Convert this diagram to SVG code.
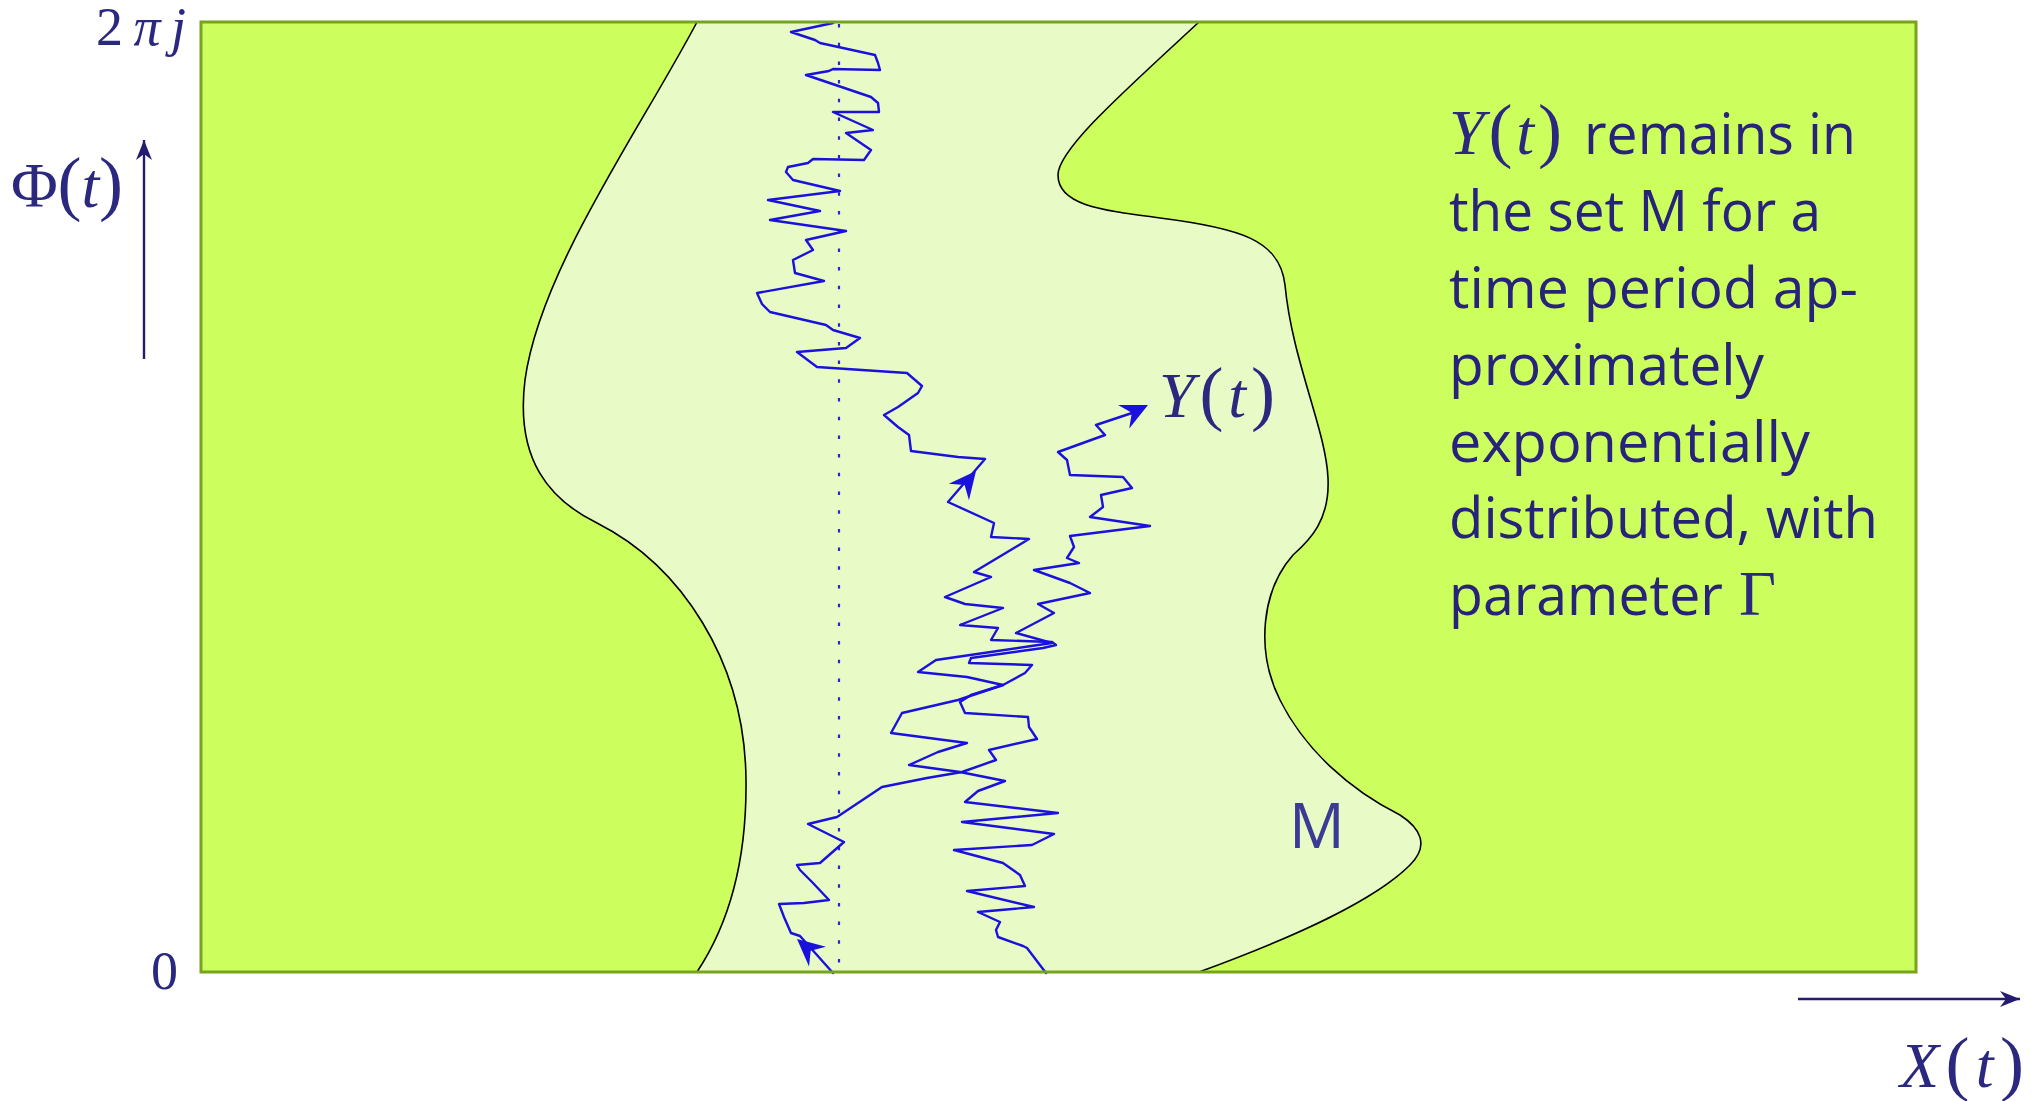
<svg xmlns="http://www.w3.org/2000/svg" width="2035" height="1101" viewBox="0 0 2035 1101">
<style>
.bnd{fill:none;stroke:#000;stroke-width:1.6}
.walk{fill:none;stroke:#1a12dc;stroke-width:2.4;stroke-linejoin:round;stroke-linecap:round}
.axis{fill:none;stroke:#221d70;stroke-width:2.4}
.math{font-family:"Liberation Serif","DejaVu Serif",serif;fill:#2b2880}
.it{font-style:italic}
.par{font-size:72px}
.body{font-family:"Open Sans","Noto Sans",sans-serif;font-size:56px;fill:#27237a}
</style>
<defs>
<marker id="ah" viewBox="-28 -14 30 28" refX="0" refY="0" markerWidth="30" markerHeight="28" markerUnits="userSpaceOnUse" orient="auto" overflow="visible">
<path d="M0,0 L-27,-13 L-18,0 L-27,13 Z" fill="#1a12dc"/>
</marker>
<marker id="ax" viewBox="-22 -10 24 20" refX="0" refY="0" markerWidth="24" markerHeight="20" markerUnits="userSpaceOnUse" orient="auto" overflow="visible">
<path d="M0,0 L-20,-8 L-14,0 L-20,8 Z" fill="#221d70"/>
</marker>
</defs>

<g id="background">
<rect x="201" y="22" width="1715" height="950" fill="#ccff5e"/>
<path id="setM" d="M 697 22 C 640 130, 540 270, 525 380 C 515 460, 550 500, 597 523 C 680 565, 745 660, 746 780 C 747 870, 725 930, 697 972 L 1199 972 C 1300 935, 1375 900, 1410 865 C 1430 845, 1420 828, 1400 815 C 1350 790, 1305 750, 1280 700 C 1255 650, 1262 590, 1293 555 C 1310 540, 1330 520, 1328 478 C 1326 430, 1292 360, 1285 285 C 1280 240, 1240 228, 1160 218 C 1100 210, 1058 205, 1058 175 C 1058 150, 1120 95, 1199 22 Z" fill="#e8fac5"/>
<path class="bnd" d="M 697 22 C 640 130, 540 270, 525 380 C 515 460, 550 500, 597 523 C 680 565, 745 660, 746 780 C 747 870, 725 930, 697 972"/>
<path class="bnd" d="M 1199 972 C 1300 935, 1375 900, 1410 865 C 1430 845, 1420 828, 1400 815 C 1350 790, 1305 750, 1280 700 C 1255 650, 1262 590, 1293 555 C 1310 540, 1330 520, 1328 478 C 1326 430, 1292 360, 1285 285 C 1280 240, 1240 228, 1160 218 C 1100 210, 1058 205, 1058 175 C 1058 150, 1120 95, 1199 22"/>
<line x1="839" y1="24" x2="839" y2="970" stroke="#2a24d0" stroke-width="2.2" stroke-dasharray="3.5 15.2"/>
</g>

<g id="connectors">
<path id="walkA" class="walk" d="M 833 973 L 800 936 791 933 784 917 779 904 804 903 829 900 813 883 800 870 797 865 820 863 844 842 808 824 837 817 858 803 882 787 927 778 962 772 996 760 989 750 1037 739 1029 727 1028 717 965 713 960 702 971 695 1003 685 1025 673 1032 665 969 663 971 658 1043 648 1056 645 1052 642 991 640 998 628 960 625 1003 608 965 604 945 597 991 577 974 572 1029 539 991 537 994 523 948 502 985 459 958 457 911 451 909 435 898 427 884 415 898 407 918 393 922 386 907 373 817 367 797 352 846 348 860 338 833 330 826 325 770 312 762 304 757 293 824 281 795 273 793 260 813 250 806 240 846 231 770 220 820 211 768 200 840 191 793 180 786 172 788 167 808 163 813 159 864 160 871 150 846 133 873 130 833 112 879 112 878 103 871 97 806 75 829 71 833 69 880 70 878 63 875 55 820 43 815 40 791 32 833 23"/>
<path id="walkB" class="walk" d="M 1046 973 L 1027 948 1023 946 998 937 996 930 1000 922 978 912 1034 907 967 891 1025 886 1020 875 1003 863 954 850 1032 845 1054 834 962 822 1058 813 965 802 978 791 1005 781 960 772 909 765 938 752 967 743 891 733 902 713 958 700 1003 685 967 677 918 672 936 660 1052 643 1016 633 1054 613 1038 604 1090 593 1070 583 1034 570 1079 563 1067 558 1074 547 1070 536 1150 526 1090 517 1103 507 1101 495 1132 488 1123 477 1070 475 1067 460 1058 452 1105 435 1096 425 1132 413 1136 411"/>
<path d="M 818 957 L 797 939" stroke="none" fill="none" marker-end="url(#ah)"/>
<path d="M 958 493 L 976 471" stroke="none" fill="none" marker-end="url(#ah)"/>
<path d="M 1125 416 L 1148 405" stroke="none" fill="none" marker-end="url(#ah)"/>
<line class="axis" x1="144" y1="359" x2="144" y2="140" marker-end="url(#ax)"/>
<line class="axis" x1="1798" y1="999" x2="2020" y2="999" marker-end="url(#ax)"/>
</g>

<rect x="201" y="22" width="1715" height="950" fill="none" stroke="#76a41c" stroke-width="3"/>

<g id="labels">
<text class="math" x="96" y="45" font-size="54" textLength="90" lengthAdjust="spacing">2<tspan class="it">π</tspan><tspan class="it">j</tspan></text>
<text class="math" x="151" y="989" font-size="54">0</text>
<text class="math" x="11" y="207" font-size="64" textLength="112" lengthAdjust="spacing">Φ<tspan class="par">(</tspan><tspan class="it">t</tspan><tspan class="par">)</tspan></text>
<text class="math" x="1159" y="417" font-size="64" textLength="116" lengthAdjust="spacing"><tspan class="it">Y</tspan><tspan class="par">(</tspan><tspan class="it">t</tspan><tspan class="par">)</tspan></text>
<text class="math" x="1900" y="1087" font-size="64" textLength="124" lengthAdjust="spacing"><tspan class="it">X</tspan><tspan class="par">(</tspan><tspan class="it">t</tspan><tspan class="par">)</tspan></text>
<text x="1289" y="848" font-family="Open Sans, Noto Sans, sans-serif" font-size="62" fill="#3b3a94">M</text>
</g>

<g id="note">
<text class="math" x="1449" y="154" font-size="64" textLength="113" lengthAdjust="spacing"><tspan class="it">Y</tspan><tspan class="par">(</tspan><tspan class="it">t</tspan><tspan class="par">)</tspan></text>
<text class="body" x="1584" y="154" textLength="272" lengthAdjust="spacingAndGlyphs">remains in</text>
<text class="body" x="1449" y="231" textLength="372" lengthAdjust="spacingAndGlyphs">the set M for a</text>
<text class="body" x="1449" y="308" textLength="409" lengthAdjust="spacingAndGlyphs">time period ap-</text>
<text class="body" x="1449" y="385" textLength="315" lengthAdjust="spacingAndGlyphs">proximately</text>
<text class="body" x="1449" y="462" textLength="361" lengthAdjust="spacingAndGlyphs">exponentially</text>
<text class="body" x="1449" y="538" textLength="429" lengthAdjust="spacingAndGlyphs">distributed, with</text>
<text class="body" x="1449" y="615" textLength="274" lengthAdjust="spacingAndGlyphs">parameter</text>
<text class="math" x="1739" y="615" font-size="64">Γ</text>
</g>
</svg>
